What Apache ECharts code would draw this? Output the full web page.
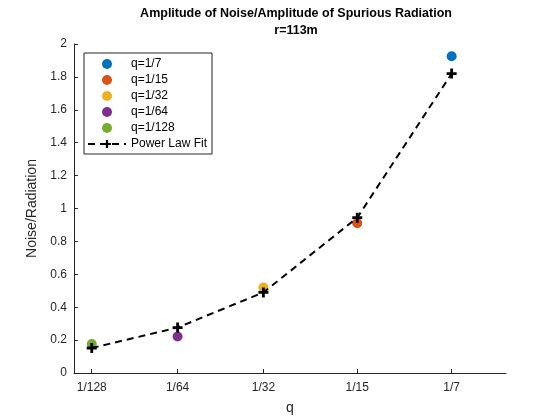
<!DOCTYPE html>
<html>
<head>
<meta charset="utf-8">
<script src="https://cdn.jsdelivr.net/npm/echarts@6/dist/echarts.min.js"></script>
<style>html,body{margin:0;padding:0;background:#fff}#c{width:560px;height:420px}</style>
</head>
<body>
<div id="c"></div>
<script>
// Data
const qLabels = ['1/128', '1/64', '1/32', '1/15', '1/7'];
const qValues = [1/128, 1/64, 1/32, 1/15, 1/7];
const ratioValues = [0.176, 0.222, 0.519, 0.911, 1.925];
const fitValues = [0.152, 0.276, 0.490, 0.944, 1.820];
const seriesNames = ['q=1/128', 'q=1/64', 'q=1/32', 'q=1/15', 'q=1/7'];
const seriesColors = ['#77AC30', '#7E2F8E', '#EDB120', '#D95319', '#0072BD'];
const legendOrder = ['q=1/7', 'q=1/15', 'q=1/32', 'q=1/64', 'q=1/128', 'Power Law Fit'];

const FONT = '"Liberation Sans", Arial, Helvetica, sans-serif';
const plusPath = 'path://M3.6,0H6.4V3.6H10V6.4H6.4V10H3.6V6.4H0V3.6H3.6Z';

const series = [];
for (let i = 0; i < qValues.length; i++) {
  series.push({
    name: seriesNames[i],
    type: 'scatter',
    symbol: 'circle',
    symbolSize: 10,
    itemStyle: { color: seriesColors[i], opacity: 1 },
    data: [[qValues[i], ratioValues[i]]],
    z: 2
  });
}
series.push({
  name: 'Power Law Fit',
  type: 'line',
  symbol: plusPath,
  symbolSize: 10,
  showAllSymbol: true,
  itemStyle: { color: '#000' },
  lineStyle: { color: '#000', width: 2, type: [7, 5] },
  data: qValues.map((q, i) => [q, fitValues[i]]),
  z: 3
});

function labelFor(v) {
  let best = 0, bd = Infinity;
  for (let i = 0; i < qValues.length; i++) {
    const d = Math.abs(Math.log(v) - Math.log(qValues[i]));
    if (d < bd) { bd = d; best = i; }
  }
  return qLabels[best];
}

const chart = echarts.init(document.getElementById('c'), null, { renderer: 'canvas' });
chart.setOption({
  animation: false,
  backgroundColor: '#fff',
  textStyle: { fontFamily: FONT },
  title: {
    text: 'Amplitude of Noise/Amplitude of Spurious Radiation\nr=113m',
    left: 291,
    top: 0,
    textAlign: 'center',
    textStyle: { fontFamily: FONT, fontSize: 12.5, fontWeight: 'bold', color: '#000', lineHeight: 17 }
  },
  grid: { left: 74, right: 54, top: 44, bottom: 47, containLabel: false },
  legend: {
    data: legendOrder,
    orient: 'vertical',
    left: 84,
    top: 53,
    itemWidth: 38,
    itemHeight: 10,
    itemGap: 4,
    padding: [5, 5, 4, 3],
    borderColor: '#262626',
    borderWidth: 1,
    backgroundColor: '#fff',
    textStyle: { fontFamily: FONT, fontSize: 12, color: '#000', lineHeight: 12 },
    selectedMode: false
  },
  xAxis: {
    type: 'log',
    logBase: 2,
    min: 0.00677,
    max: 0.2216,
    name: 'q',
    nameLocation: 'middle',
    nameGap: 28,
    nameTextStyle: { fontFamily: FONT, fontSize: 14, color: '#262626' },
    axisLine: { show: true, lineStyle: { color: '#262626', width: 1 } },
    axisTick: { show: true, inside: true, length: 4, customValues: qValues, lineStyle: { color: '#262626' } },
    axisLabel: { show: true, customValues: qValues, formatter: labelFor, fontFamily: FONT, fontSize: 12, color: '#262626', margin: 9 },
    splitLine: { show: false },
    minorTick: { show: false }
  },
  yAxis: {
    type: 'value',
    min: 0,
    max: 2,
    interval: 0.2,
    name: 'Noise/Radiation',
    nameLocation: 'middle',
    nameGap: 30,
    nameTextStyle: { fontFamily: FONT, fontSize: 14, color: '#262626' },
    axisLine: { show: true, lineStyle: { color: '#262626', width: 1 } },
    axisTick: { show: true, inside: true, length: 4, lineStyle: { color: '#262626' } },
    axisLabel: { fontFamily: FONT, fontSize: 12, color: '#262626', margin: 7 },
    splitLine: { show: false }
  },
  series: series
});
</script>
</body>
</html>
